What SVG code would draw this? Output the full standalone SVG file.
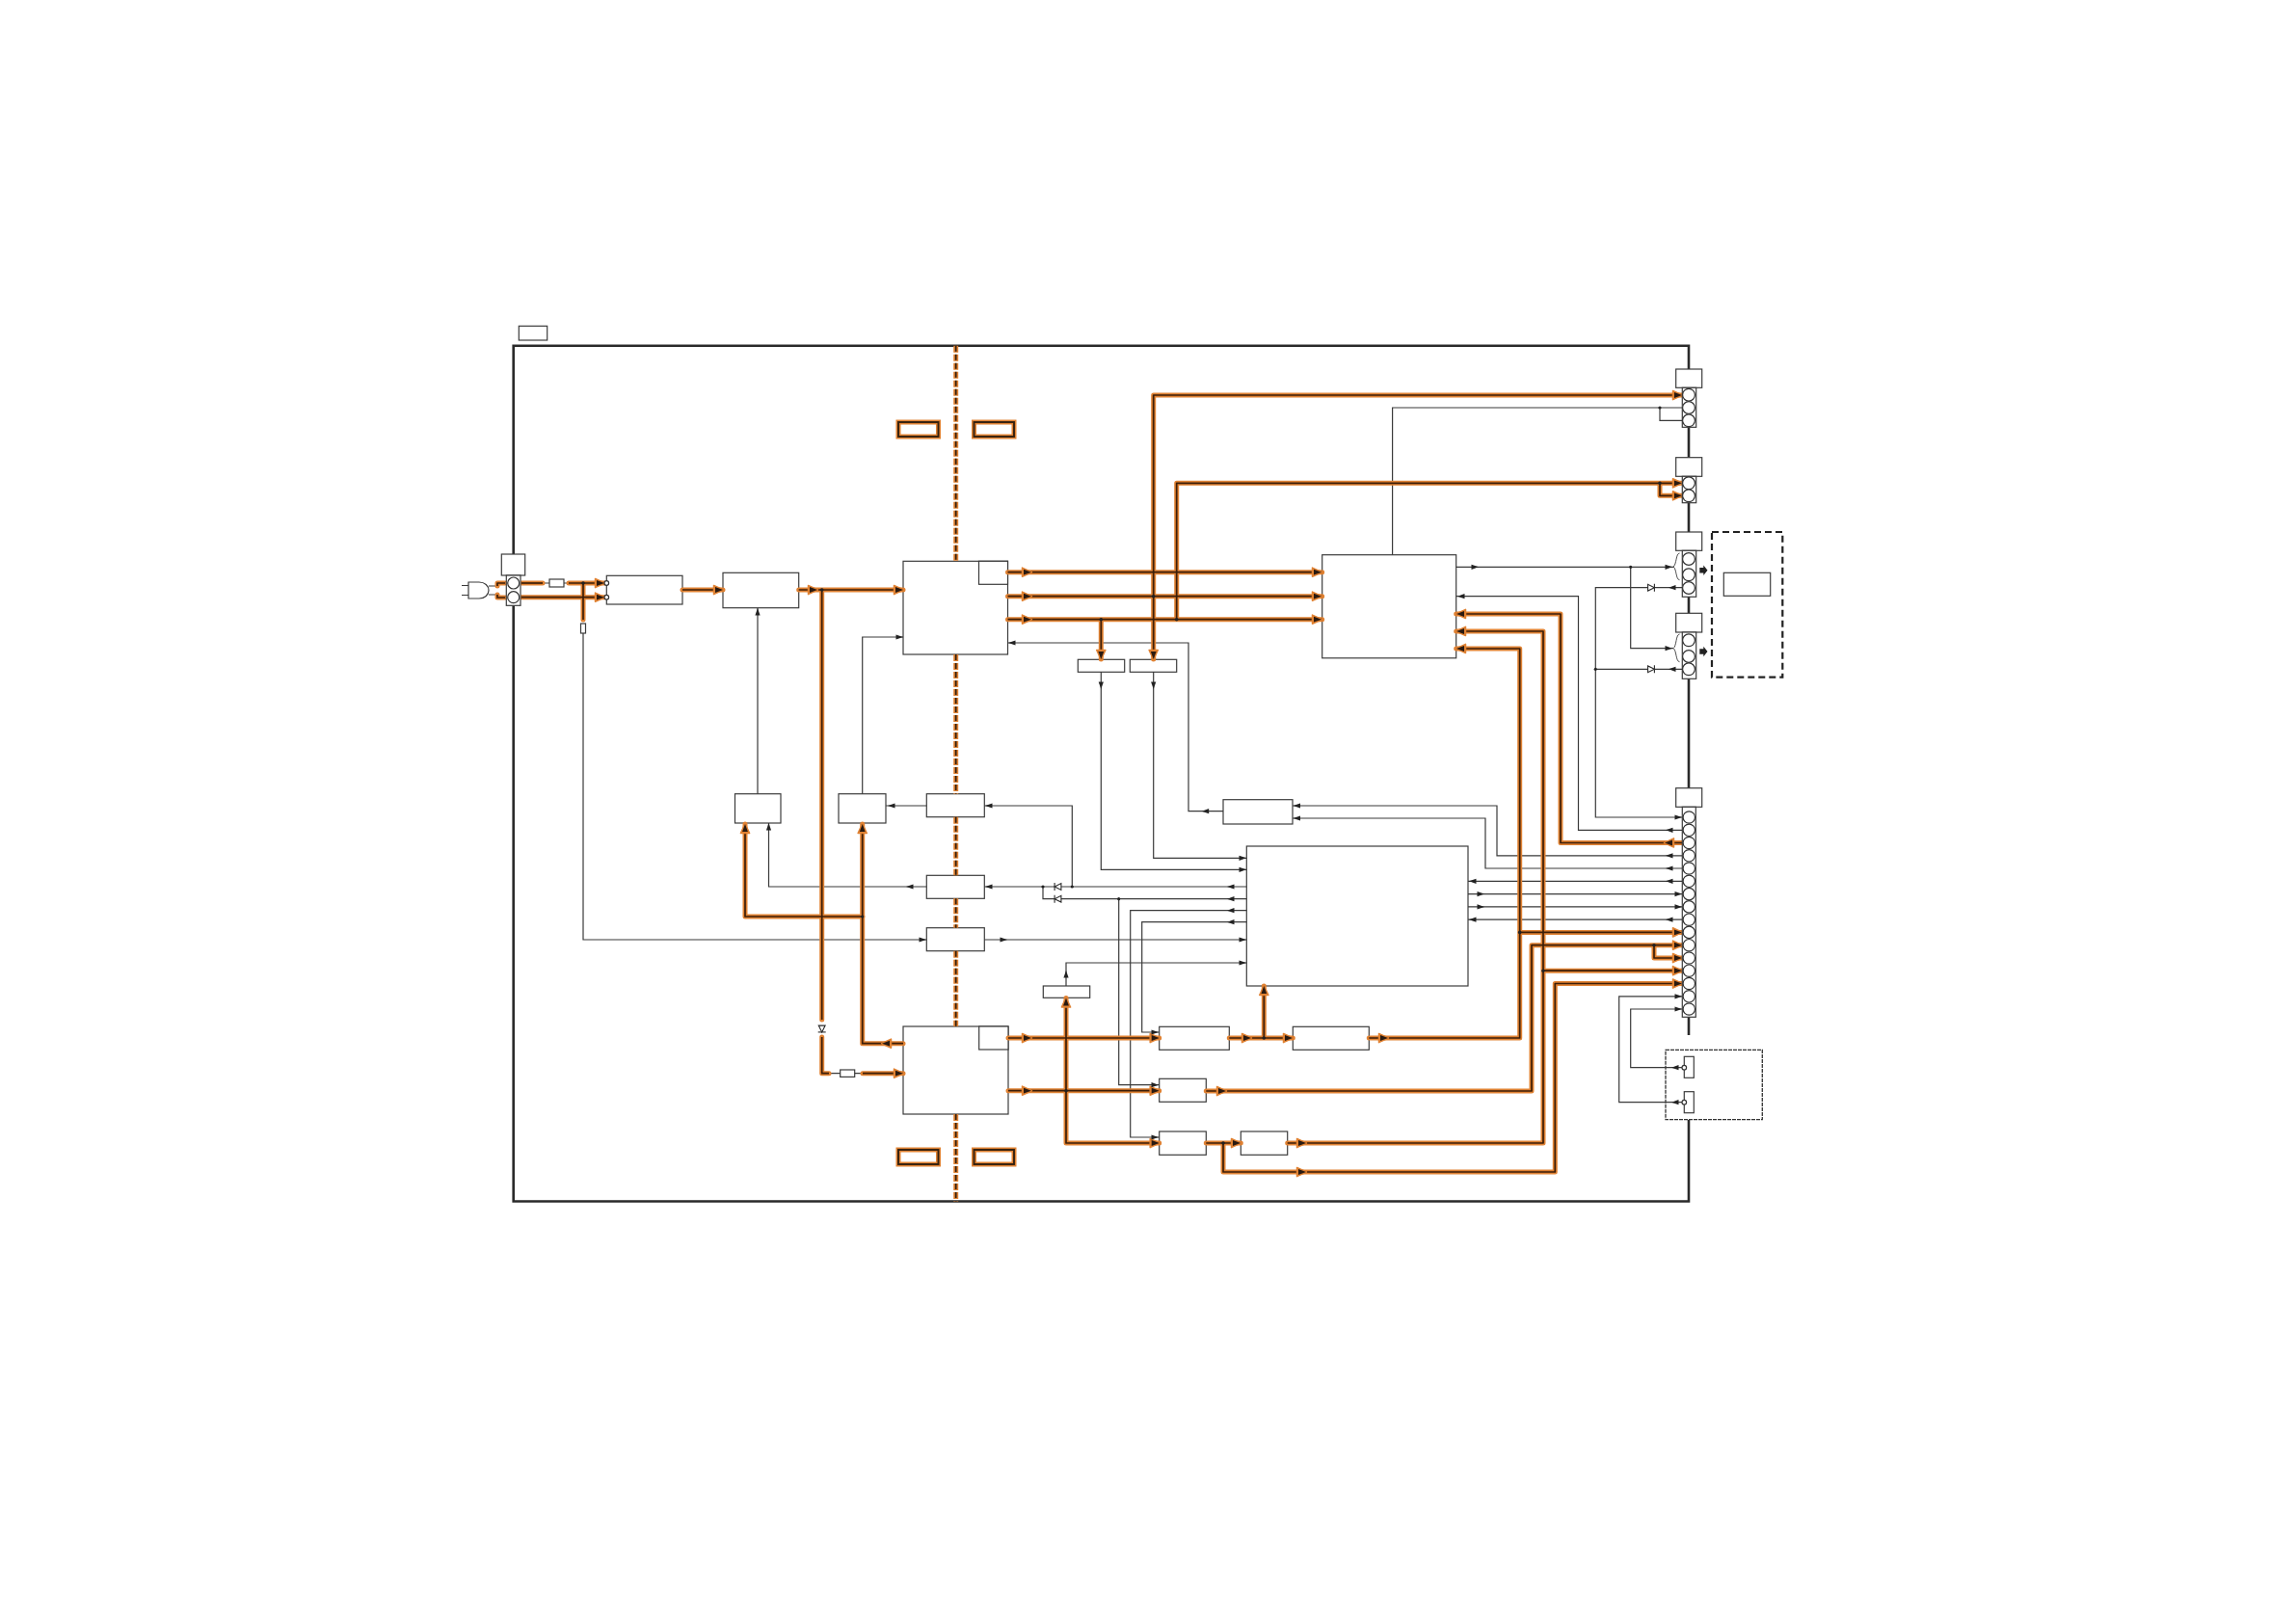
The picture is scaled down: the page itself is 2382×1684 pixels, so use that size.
<svg xmlns="http://www.w3.org/2000/svg" width="2382" height="1684" viewBox="0 0 2382 1684">
<style>
.n{fill:#fff;stroke:#3c3c3c;stroke-width:1.2}
.cc{fill:#fff;stroke:#333;stroke-width:1.2}
.f{fill:none;stroke:#2a2a2a;stroke-width:2.6}
.t{fill:none;stroke:#3a3a3a;stroke-width:1.2}
.b{fill:none;stroke:#3a3a3a;stroke-width:.9}
.h{fill:none;stroke:#e08233;stroke-width:5;stroke-linecap:round;stroke-linejoin:round}
.c{fill:none;stroke:#3c1e08;stroke-width:1.7;stroke-linejoin:round}
.hd{fill:none;stroke:#e08233;stroke-width:5;stroke-dasharray:7 2}
.cd{fill:none;stroke:#33200f;stroke-width:1.7;stroke-dasharray:6 3}
.dot{fill:#222}
.ah{fill:#e08233;stroke:#e08233;stroke-width:1.5;stroke-linejoin:round}
.ad{fill:#2a1a10}
.d{fill:#fff;stroke:#2a2a2a;stroke-width:1.1}
</style>
<defs>
<g id="ta"><polygon points="-7.5,-2.6 0,0 -7.5,2.6" fill="#222"/></g>
<g id="oa"><polygon class="ah" points="-9.5,-4.6 0.5,0 -9.5,4.6"/><polygon class="ad" points="-8,-2.9 0,0 -8,2.9"/></g>
<g id="dd"><polygon class="d" points="-3.4,-3.4 -3.4,3.4 3.4,0"/><line class="d" x1="3.4" y1="-4" x2="3.4" y2="4"/></g>
</defs>

<g id="frame">
<path class="f" d="M532.7 575V358.7H1752V383M1752 443V475M1752 522V552M1752 619V636M1752 704V818M1752 1055V1074M1752 1162V1246.5H532.7V628"/>
</g>

<g id="label-top"><rect class="n" x="538.3" y="338.3" width="29.4" height="14.7"/></g>

<g id="ac-plug">
<path class="n" d="M486 604H497C503 604 507 608 507 612.5C507 617 503 621 497 621H486Z"/>
<path class="t" d="M479 607.5H486M479 617.5H486"/>
</g>
<g id="ac-label"><rect class="n" x="520.3" y="575" width="24.4" height="22"/></g>
<g id="fuse-1"><rect class="n" x="570" y="601" width="15" height="8"/></g>
<g id="fuse-2"><rect class="n" x="871.7" y="1110" width="15" height="7.4"/></g>
<g id="res-1"><rect class="n" x="602.5" y="647" width="5" height="10"/></g>
<g id="filter"><rect class="n" x="629.3" y="597.3" width="78.7" height="29.7"/></g>
<g id="rect-1"><rect class="n" x="750" y="594.3" width="78.7" height="36.4"/></g>
<g id="main-a"><rect class="n" x="937" y="582.3" width="108.5" height="96.7"/><rect class="n" x="1015.5" y="582.3" width="30" height="24"/></g>
<g id="main-b"><rect class="n" x="937" y="1065" width="109" height="91"/><rect class="n" x="1015.7" y="1065" width="30.3" height="24"/></g>
<g id="sq-1"><rect class="n" x="762.5" y="823.7" width="47.5" height="30.3"/></g>
<g id="sq-2"><rect class="n" x="870" y="823.7" width="49" height="30.3"/></g>
<g id="iso-1"><rect class="n" x="961.3" y="823.7" width="60" height="24"/></g>
<g id="iso-2"><rect class="n" x="961.3" y="908.3" width="60" height="24"/></g>
<g id="iso-3"><rect class="n" x="961.3" y="962.7" width="60" height="24"/></g>
<g id="tag-1"><rect class="n" x="1082.3" y="1023" width="48.4" height="12.3"/></g>
<g id="ctrl"><rect class="n" x="1293.3" y="878" width="229.7" height="145"/></g>
<g id="box-d"><rect class="n" x="1269" y="829.7" width="72" height="25.3"/></g>
<g id="box-e"><rect class="n" x="1371.7" y="575.7" width="139" height="107.1"/></g>
<g id="tag-2"><rect class="n" x="1118.3" y="684.3" width="48.4" height="13"/></g>
<g id="tag-3"><rect class="n" x="1172.3" y="684.3" width="48.4" height="13"/></g>
<g id="box-f1"><rect class="n" x="1202.7" y="1065.3" width="72.6" height="24"/></g>
<g id="box-f2"><rect class="n" x="1341.3" y="1065.3" width="79" height="24"/></g>
<g id="box-g"><rect class="n" x="1202.7" y="1119.3" width="48.6" height="24"/></g>
<g id="box-h1"><rect class="n" x="1202.7" y="1174" width="48.6" height="24.3"/></g>
<g id="box-h2"><rect class="n" x="1287.3" y="1174" width="48.4" height="24.3"/></g>

<g id="heat-1"><rect x="932" y="438" width="41.5" height="15" fill="#fff" stroke="#e08233" stroke-width="5"/><rect x="932" y="438" width="41.5" height="15" fill="none" stroke="#33200f" stroke-width="1.9"/></g>
<g id="heat-2"><rect x="1010.5" y="438" width="41.5" height="15" fill="#fff" stroke="#e08233" stroke-width="5"/><rect x="1010.5" y="438" width="41.5" height="15" fill="none" stroke="#33200f" stroke-width="1.9"/></g>
<g id="heat-3"><rect x="932" y="1193" width="41.5" height="15" fill="#fff" stroke="#e08233" stroke-width="5"/><rect x="932" y="1193" width="41.5" height="15" fill="none" stroke="#33200f" stroke-width="1.9"/></g>
<g id="heat-4"><rect x="1010.5" y="1193" width="41.5" height="15" fill="#fff" stroke="#e08233" stroke-width="5"/><rect x="1010.5" y="1193" width="41.5" height="15" fill="none" stroke="#33200f" stroke-width="1.9"/></g>

<g id="ext-dashed"><rect x="1776" y="552" width="73.3" height="150.7" fill="none" stroke="#222" stroke-width="2.2" stroke-dasharray="7 4"/></g>
<g id="ext-inner"><rect class="n" x="1788.3" y="594.3" width="48.4" height="24"/></g>
<g id="flow-1"><polygon points="1763.3,589 1767.3,589 1767.3,586.5 1771.5,591.7 1767.3,597 1767.3,594.5 1763.3,594.5" fill="#222"/></g>
<g id="flow-2"><polygon points="1763.3,673.3 1767.3,673.3 1767.3,670.8 1771.5,676 1767.3,681.3 1767.3,678.8 1763.3,678.8" fill="#222"/></g>
<g id="sub-dashed"><rect x="1728" y="1089.3" width="100.3" height="72.4" fill="none" stroke="#333" stroke-width="1.3" stroke-dasharray="4 1"/>
<rect class="n" x="1747.3" y="1096.3" width="10" height="22"/><rect class="n" x="1747.3" y="1132.7" width="10" height="22"/>
<circle class="cc" cx="1747.3" cy="1107.7" r="2.3"/><circle class="cc" cx="1747.3" cy="1143.7" r="2.3"/></g>

<g id="connectors">
<g id="thin">
<path class="t" d="M507 608H516M507 617H516"/>
<path class="t" d="M563 605H570M585 605H590"/>
<path class="t" d="M605 657V975H961.3"/>
<path class="t" d="M1021.3 975H1293.3"/>
<path class="t" d="M786 631V823.7"/>
<path class="t" d="M797.5 854V920H961.3"/>
<path class="t" d="M894.7 823.7V661H937"/>
<path class="t" d="M919 836H961.3"/>
<path class="t" d="M1021.3 836H1112.3V920"/>
<path class="t" d="M1021.3 920H1094M1101 920H1293.3"/>
<path class="t" d="M1082 920V932.7H1094M1101 932.7H1293.3"/>
<path class="t" d="M1293.3 944.7H1172.7V1180H1202.7"/>
<path class="t" d="M1293.3 956.7H1184.7V1071H1202.7"/>
<path class="t" d="M1160.7 932.7V1125.7H1202.7"/>
<path class="t" d="M1106 1023V999H1293.3"/>
<path class="t" d="M1142.3 697V902.3H1293.3"/>
<path class="t" d="M1196.7 697V890.3H1293.3"/>
<path class="t" d="M1269 841.7H1233V667H1045.5"/>
<path class="t" d="M1341 836H1553V887.8H1745.3"/>
<path class="t" d="M1341 849H1541V901H1745.3"/>
<path class="t" d="M1523 914.3H1745.3M1523 927.6H1745.3M1523 940.9H1745.3M1523 954.2H1745.3"/>
<path class="t" d="M1510.7 618.7H1637.5V861.3H1745.3"/>
<path class="t" d="M1510.7 588.3H1736"/>
<path class="t" d="M1691.7 588.3V672.7H1736"/>
<path class="t" d="M1745.3 609.7H1716.7M1709.3 609.7H1655.3V848H1745.3"/>
<path class="t" d="M1745.3 694.3H1716.7M1709.3 694.3H1655.3"/>
<path class="t" d="M1444.6 575.7V423H1745.3"/>
<path class="t" d="M1722 423V436.3H1745.3"/>
<path class="t" d="M1745.3 1033.8H1679.7V1143.7H1745"/>
<path class="t" d="M1745.3 1047H1691.7V1107.7H1745"/>
<path class="t" d="M860 1113.7H871.7M886.7 1113.7H895"/>
</g>

<g id="power">
<path class="h" d="M516 608V605H524M516 617V620H524M541 605H563M590 605H627M541 619.7H627M605 605V643M708 612H750M828.7 612H937M852.7 612V1058M852.7 1076V1113.7H860M895 1113.7H937M773 855V951H895M894.7 855V1082.7H937M1045.5 593.7H1371.7M1045.5 618.7H1371.7M1045.5 642.7H1371.7M1142.3 642.7V684M1196.7 410H1745M1196.7 410V684M1220.7 501.3V642.7M1220.7 501.3H1745M1722 501.3V514.3H1745M1046 1077H1202.7M1046 1131.7H1202.7M1106 1035.5V1186H1202.7M1275.3 1077H1341.3M1311.3 1023V1077M1420.3 1077H1576.7V673H1510.7M1251.3 1132H1589V980.7H1745M1251.3 1186H1287.3M1335.7 1186H1601V655H1510.7M1269 1186V1216H1613.3V1020.5H1745M1745 874.5H1619V637H1510.7M1576.7 967.4H1745M1716 980.7V994H1745M1601 1007.2H1745"/>
<path class="hd" d="M991.7 358.7V582.3M991.7 679V823.7M991.7 847.7V908.3M991.7 932.3V962.7M991.7 986.7V1065M991.7 1156V1246.5"/>
<path class="cd" d="M991.7 358.7V582.3M991.7 679V823.7M991.7 847.7V908.3M991.7 932.3V962.7M991.7 986.7V1065M991.7 1156V1246.5"/>
<path class="c" d="M516 608V605H524M516 617V620H524"/>
<path class="c" d="M541 605H563"/>
<path class="c" d="M590 605H627"/>
<path class="c" d="M541 619.7H627"/>
<path class="c" d="M605 605V643"/>
<path class="c" d="M708 612H750"/>
<path class="c" d="M828.7 612H937"/>
<path class="c" d="M852.7 612V1058"/>
<path class="c" d="M852.7 1076V1113.7H860"/>
<path class="c" d="M895 1113.7H937"/>
<path class="c" d="M773 855V951H895"/>
<path class="c" d="M894.7 855V1082.7H937"/>
<path class="c" d="M1045.5 593.7H1371.7"/>
<path class="c" d="M1045.5 618.7H1371.7"/>
<path class="c" d="M1045.5 642.7H1371.7"/>
<path class="c" d="M1142.3 642.7V684"/>
<path class="c" d="M1745 410H1196.7V684"/>
<path class="c" d="M1745 501.3H1220.7V642.7"/>
<path class="c" d="M1722 501.3V514.3H1745"/>
<path class="c" d="M1046 1077H1202.7"/>
<path class="c" d="M1046 1131.7H1202.7"/>
<path class="c" d="M1106 1035.5V1186H1202.7"/>
<path class="c" d="M1275.3 1077H1341.3"/>
<path class="c" d="M1311.3 1023V1077"/>
<path class="c" d="M1420.3 1077H1576.7V673H1510.7"/>
<path class="c" d="M1251.3 1132H1589V980.7H1745"/>
<path class="c" d="M1251.3 1186H1287.3"/>
<path class="c" d="M1335.7 1186H1601V655H1510.7"/>
<path class="c" d="M1269 1186V1216H1613.3V1020.5H1745"/>
<path class="c" d="M1745 874.5H1619V637H1510.7"/>
<path class="c" d="M1576.7 967.4H1745"/>
<path class="c" d="M1716 980.7V994H1745"/>
<path class="c" d="M1601 1007.2H1745"/>
</g>

<g id="arrowheads">
<use href="#oa" transform="translate(627 605)"/><use href="#oa" transform="translate(627 619.7)"/>
<use href="#oa" transform="translate(750 612)"/><use href="#oa" transform="translate(848 612)"/><use href="#oa" transform="translate(937 612)"/>
<use href="#oa" transform="translate(1070 593.7)"/><use href="#oa" transform="translate(1070 618.7)"/><use href="#oa" transform="translate(1070 642.7)"/>
<use href="#oa" transform="translate(1371 593.7)"/><use href="#oa" transform="translate(1371 618.7)"/><use href="#oa" transform="translate(1371 642.7)"/>
<use href="#oa" transform="translate(915 1082.7) rotate(180)"/><use href="#oa" transform="translate(937 1113.7)"/>
<use href="#oa" transform="translate(894.7 855) rotate(-90)"/><use href="#oa" transform="translate(773 855) rotate(-90)"/>
<use href="#oa" transform="translate(1070 1077)"/><use href="#oa" transform="translate(1070 1131.7)"/>
<use href="#oa" transform="translate(1202.7 1077)"/><use href="#oa" transform="translate(1202.7 1131.7)"/><use href="#oa" transform="translate(1202.7 1186)"/>
<use href="#oa" transform="translate(1298 1077)"/><use href="#oa" transform="translate(1341 1077)"/><use href="#oa" transform="translate(1440 1077)"/>
<use href="#oa" transform="translate(1272 1132)"/><use href="#oa" transform="translate(1287 1186)"/><use href="#oa" transform="translate(1355 1186)"/><use href="#oa" transform="translate(1355 1216)"/>
<use href="#oa" transform="translate(1106 1035.5) rotate(-90)"/><use href="#oa" transform="translate(1311.3 1023) rotate(-90)"/>
<use href="#oa" transform="translate(1511 637) rotate(180)"/><use href="#oa" transform="translate(1511 655) rotate(180)"/><use href="#oa" transform="translate(1511 673) rotate(180)"/>
<use href="#oa" transform="translate(1727 874.5) rotate(180)"/>
<use href="#oa" transform="translate(1745 410)"/><use href="#oa" transform="translate(1745 501.3)"/><use href="#oa" transform="translate(1745 514.3)"/>
<use href="#oa" transform="translate(1745 967.4)"/><use href="#oa" transform="translate(1745 980.7)"/><use href="#oa" transform="translate(1745 994)"/><use href="#oa" transform="translate(1745 1007.2)"/><use href="#oa" transform="translate(1745 1020.5)"/>
<use href="#oa" transform="translate(1142.3 684) rotate(90)"/><use href="#oa" transform="translate(1196.7 684) rotate(90)"/>

<use href="#ta" transform="translate(786 631) rotate(-90)"/><use href="#ta" transform="translate(937 661)"/>
<use href="#ta" transform="translate(921 836) rotate(180)"/><use href="#ta" transform="translate(1022 836) rotate(180)"/>
<use href="#ta" transform="translate(1022 920) rotate(180)"/><use href="#ta" transform="translate(940 920) rotate(180)"/><use href="#ta" transform="translate(797.5 854) rotate(-90)"/>
<use href="#ta" transform="translate(961 975)"/><use href="#ta" transform="translate(1045 975)"/><use href="#ta" transform="translate(1293 975)"/><use href="#ta" transform="translate(1293 999)"/>
<use href="#ta" transform="translate(1106 1007) rotate(-90)"/>
<use href="#ta" transform="translate(1273 920) rotate(180)"/><use href="#ta" transform="translate(1273 932.7) rotate(180)"/><use href="#ta" transform="translate(1273 944.7) rotate(180)"/><use href="#ta" transform="translate(1273 956.7) rotate(180)"/>
<use href="#ta" transform="translate(1293 890.3)"/><use href="#ta" transform="translate(1293 902.3)"/>
<use href="#ta" transform="translate(1246.7 841.7) rotate(180)"/><use href="#ta" transform="translate(1046 667) rotate(180)"/>
<use href="#ta" transform="translate(1202 1071)"/><use href="#ta" transform="translate(1202 1125.7)"/><use href="#ta" transform="translate(1202 1180)"/>
<use href="#ta" transform="translate(1142.3 715) rotate(90)"/><use href="#ta" transform="translate(1196.7 715) rotate(90)"/>
<use href="#ta" transform="translate(1341.5 836) rotate(180)"/><use href="#ta" transform="translate(1341.5 849) rotate(180)"/>
<use href="#ta" transform="translate(1524 914.3) rotate(180)"/><use href="#ta" transform="translate(1540 927.6)"/><use href="#ta" transform="translate(1540 940.9)"/><use href="#ta" transform="translate(1524 954.2) rotate(180)"/>
<use href="#ta" transform="translate(1745 848)"/><use href="#ta" transform="translate(1728 861.3) rotate(180)"/><use href="#ta" transform="translate(1728 887.8) rotate(180)"/><use href="#ta" transform="translate(1728 901) rotate(180)"/><use href="#ta" transform="translate(1728 914.3) rotate(180)"/><use href="#ta" transform="translate(1745 927.6)"/><use href="#ta" transform="translate(1745 940.9)"/><use href="#ta" transform="translate(1728 954.2) rotate(180)"/>
<use href="#ta" transform="translate(1745 1033.8)"/><use href="#ta" transform="translate(1745 1047)"/>
<use href="#ta" transform="translate(1734 1107.7) rotate(180)"/><use href="#ta" transform="translate(1734 1143.7) rotate(180)"/>
<use href="#ta" transform="translate(1735 588.3)"/><use href="#ta" transform="translate(1735 672.7)"/>
<use href="#ta" transform="translate(1731 609.7) rotate(180)"/><use href="#ta" transform="translate(1731 694.3) rotate(180)"/>
<use href="#ta" transform="translate(1534 588.3)"/><use href="#ta" transform="translate(1512 618.7) rotate(180)"/>
</g>

<g id="junctions">
<circle class="dot" cx="605" cy="605" r="1.8"/><circle class="dot" cx="852.7" cy="612" r="1.8"/>
<circle class="dot" cx="1112.3" cy="920" r="1.6"/><circle class="dot" cx="1082" cy="920" r="1.6"/><circle class="dot" cx="1160.7" cy="932.7" r="1.6"/>
<circle class="dot" cx="1142.3" cy="642.7" r="1.8"/><circle class="dot" cx="1196.7" cy="618.7" r="1.8"/><circle class="dot" cx="1220.7" cy="642.7" r="1.8"/>
<circle class="dot" cx="1106" cy="1131.7" r="1.8"/><circle class="dot" cx="1311.3" cy="1077" r="1.8"/><circle class="dot" cx="1269" cy="1186" r="1.8"/>
<circle class="dot" cx="894.7" cy="951" r="1.6"/>
<circle class="dot" cx="1576.7" cy="967.4" r="1.8"/><circle class="dot" cx="1601" cy="1007.2" r="1.8"/><circle class="dot" cx="1716" cy="980.7" r="1.8"/><circle class="dot" cx="1722" cy="501.3" r="1.8"/>
<circle class="dot" cx="1722" cy="423" r="1.6"/><circle class="dot" cx="1691.7" cy="588.3" r="1.6"/><circle class="dot" cx="1655.3" cy="694.3" r="1.6"/>
</g>
</g>

<g id="ac-conn">
<rect class="n" x="525.3" y="597" width="14.7" height="31.3"/>
<circle class="cc" cx="532.7" cy="605" r="6"/><circle class="cc" cx="532.7" cy="619.7" r="6"/>
</g>
<g id="conn-1"><rect class="n" x="1738.7" y="383" width="27" height="19.3"/><rect class="n" x="1745.3" y="402.3" width="14.4" height="41"/>
<circle class="cc" cx="1752" cy="409.7" r="6.4"/><circle class="cc" cx="1752" cy="423" r="6.4"/><circle class="cc" cx="1752" cy="436.3" r="6.4"/></g>
<g id="conn-2"><rect class="n" x="1738.7" y="474.7" width="27" height="19.6"/><rect class="n" x="1745.3" y="494.3" width="14.4" height="27.4"/>
<circle class="cc" cx="1752" cy="501.3" r="6.4"/><circle class="cc" cx="1752" cy="514.3" r="6.4"/></g>
<g id="conn-3"><rect class="n" x="1738.7" y="552" width="27" height="19.3"/><rect class="n" x="1745.3" y="571.3" width="14.4" height="48"/>
<circle class="cc" cx="1752" cy="580" r="6.4"/><circle class="cc" cx="1752" cy="596.3" r="6.4"/><circle class="cc" cx="1752" cy="610" r="6.4"/>
<path class="b" d="M1742.5 574C1738.5 574 1739.5 586 1736 588C1739.5 590 1738.5 601.7 1742.5 601.7"/></g>
<g id="conn-4"><rect class="n" x="1738.7" y="636.3" width="27" height="19.7"/><rect class="n" x="1745.3" y="656" width="14.4" height="48.3"/>
<circle class="cc" cx="1752" cy="664.3" r="6.4"/><circle class="cc" cx="1752" cy="681" r="6.4"/><circle class="cc" cx="1752" cy="694.3" r="6.4"/>
<path class="b" d="M1742.5 658C1738.5 658 1739.5 670.7 1736 672.7C1739.5 674.7 1738.5 686.7 1742.5 686.7"/></g>
<g id="conn-5"><rect class="n" x="1738.7" y="817.7" width="27" height="19.6"/><rect class="n" x="1745.3" y="837.3" width="14" height="218"/>
<circle class="cc" cx="1752.3" cy="848" r="6.2"/><circle class="cc" cx="1752.3" cy="861.3" r="6.2"/><circle class="cc" cx="1752.3" cy="874.5" r="6.2"/><circle class="cc" cx="1752.3" cy="887.8" r="6.2"/><circle class="cc" cx="1752.3" cy="901" r="6.2"/><circle class="cc" cx="1752.3" cy="914.3" r="6.2"/><circle class="cc" cx="1752.3" cy="927.6" r="6.2"/><circle class="cc" cx="1752.3" cy="940.9" r="6.2"/><circle class="cc" cx="1752.3" cy="954.2" r="6.2"/><circle class="cc" cx="1752.3" cy="967.4" r="6.2"/><circle class="cc" cx="1752.3" cy="980.7" r="6.2"/><circle class="cc" cx="1752.3" cy="994" r="6.2"/><circle class="cc" cx="1752.3" cy="1007.2" r="6.2"/><circle class="cc" cx="1752.3" cy="1020.5" r="6.2"/><circle class="cc" cx="1752.3" cy="1033.8" r="6.2"/><circle class="cc" cx="1752.3" cy="1047" r="6.2"/></g>

<g id="diodes">
<use href="#dd" transform="translate(1097.5 920) rotate(180)"/><use href="#dd" transform="translate(1097.5 932.7) rotate(180)"/>
<use href="#dd" transform="translate(1713 609.7)"/><use href="#dd" transform="translate(1713 694.3)"/>
<use href="#dd" transform="translate(852.7 1067.5) rotate(90)"/>
</g>
<g id="small-terms">
<circle class="cc" cx="629.3" cy="605" r="2.3"/><circle class="cc" cx="629.3" cy="619.7" r="2.3"/>
</g>
</svg>
